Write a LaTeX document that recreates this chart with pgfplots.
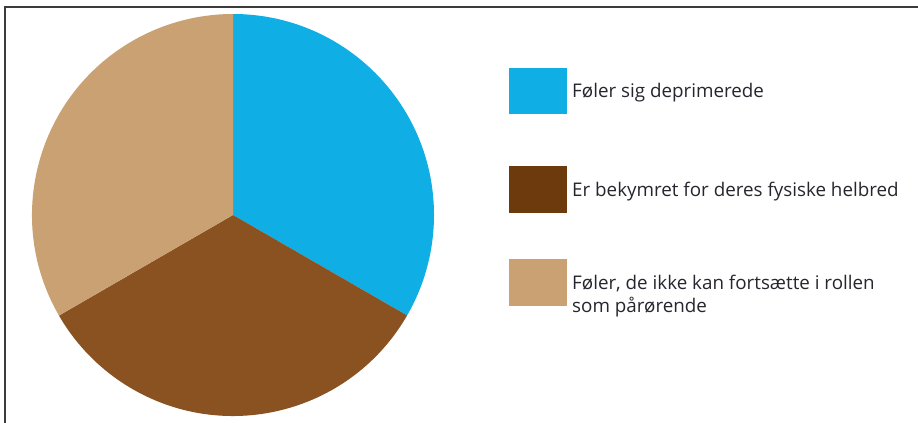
\documentclass[border=0pt]{standalone}
\usepackage{pgfplots}
\pgfplotsset{compat=1.18}
\usepackage{fontspec}
\setmainfont{Open Sans}
\definecolor{cblue}{HTML}{0FAFE6}
\definecolor{cbrown}{HTML}{8A5221}
\definecolor{ctan}{HTML}{C9A173}
\definecolor{lbrown}{HTML}{6C3A0C}
\definecolor{frame}{HTML}{3C3C3C}
\definecolor{txt}{HTML}{26262E}
% shares (percent)
\def\va{33.33}\def\vb{33.33}\def\vc{33.34}
\pgfmathsetmacro\aA{90}
\pgfmathsetmacro\aB{90-3.6*\va}
\pgfmathsetmacro\aC{\aB-3.6*\vb}
\pgfmathsetmacro\aD{\aC-3.6*\vc}
\begin{document}
\begin{tikzpicture}
\begin{axis}[
  width=918bp, height=423bp, scale only axis,
  xmin=0, xmax=918, ymin=0, ymax=423,
  hide axis, clip=false,
]
\fill[cblue] (axis cs:233,208) -- ++(\aA:201bp) arc[start angle=\aA, end angle=\aB, radius=201bp] -- cycle;
\fill[cbrown] (axis cs:233,208) -- ++(\aB:201bp) arc[start angle=\aB, end angle=\aC, radius=201bp] -- cycle;
\fill[ctan] (axis cs:233,208) -- ++(\aC:201bp) arc[start angle=\aC, end angle=\aD, radius=201bp] -- cycle;
% legend swatches
\addplot[fill=cblue, draw=none] coordinates {(509,355) (567,355) (567,309) (509,309)} -- cycle;
\addplot[fill=lbrown, draw=none] coordinates {(509,257) (567,257) (567,210) (509,210)} -- cycle;
\addplot[fill=ctan, draw=none] coordinates {(509,164) (567,164) (567,117) (509,117)} -- cycle;
\node[anchor=west, text=txt, font=\fontsize{18.8bp}{23.5bp}\selectfont, inner sep=0pt] at (axis cs:572,330) {Føler sig deprimerede};
\node[anchor=west, text=txt, font=\fontsize{18.8bp}{23.5bp}\selectfont, inner sep=0pt] at (axis cs:572,231) {Er bekymret for deres fysiske helbred};
\node[anchor=west, text=txt, font=\fontsize{18.8bp}{23.5bp}\selectfont, inner sep=0pt, align=left] at (axis cs:572,127) {Føler, de ikke kan fortsætte i rollen\\som pårørende};
% frame
\draw[frame, line width=2bp] (axis cs:5,0) -- (axis cs:5,416) -- (axis cs:918,416);
\end{axis}
\pgfresetboundingbox
\path[use as bounding box] (0,0) rectangle (918bp,423bp);
\end{tikzpicture}
\end{document}
